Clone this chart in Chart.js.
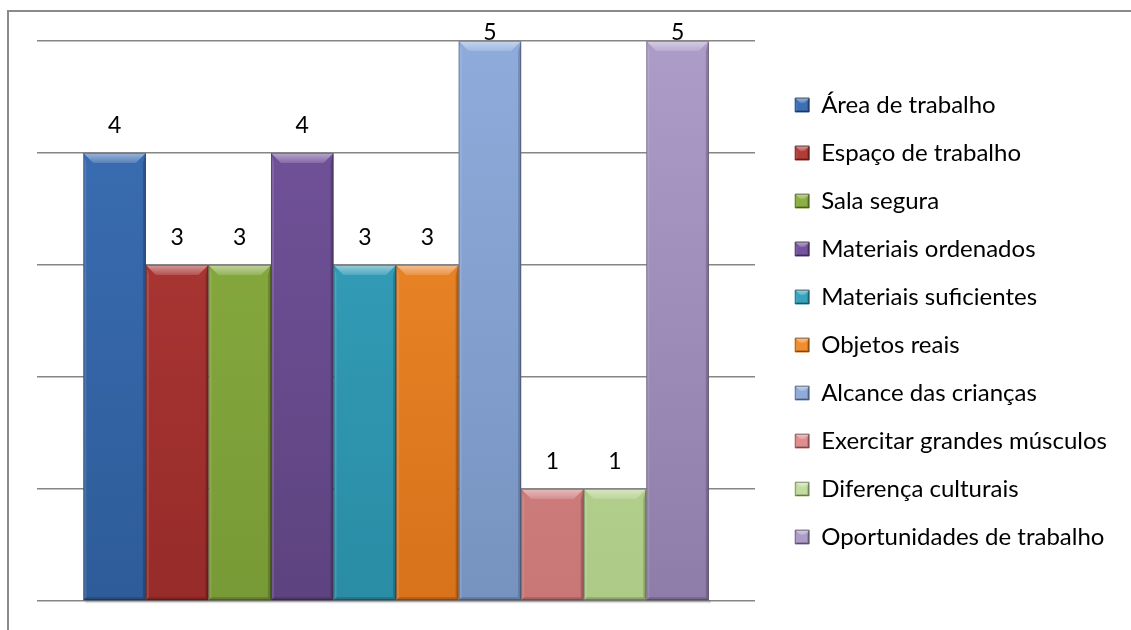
<!DOCTYPE html>
<html>
<head>
<meta charset="utf-8">
<script src="https://cdn.jsdelivr.net/npm/chart.js@4/dist/chart.umd.min.js"></script>
<style>
  html, body { margin: 0; padding: 0; background: #fff; }
  #wrap { position: relative; width: 1131px; height: 630px; overflow: hidden; }
  #frame { position: absolute; left: 7px; top: 10px; width: 2000px; height: 2000px; border: 2px solid #8a8a8a; box-sizing: border-box; }
  canvas { position: absolute; left: 0; top: 0; }
</style>
</head>
<body>
<div id="wrap">
  <div id="frame"></div>
  <canvas id="c" width="1131" height="630"></canvas>
</div>
<script>
// Items evaluated in the classroom survey
const categories = [
  'Área de trabalho',
  'Espaço de trabalho',
  'Sala segura',
  'Materiais ordenados',
  'Materiais suficientes',
  'Objetos reais',
  'Alcance das crianças',
  'Exercitar grandes músculos',
  'Diferença culturais',
  'Oportunidades de trabalho'
];
const values = [4, 3, 3, 4, 3, 3, 5, 1, 1, 5];
const yTicks = [0, 1, 2, 3, 4, 5];

// Fill colours: light top / dark bottom of each bar
const topColors = ['#3c6fb6', '#b33b38', '#8caf41', '#74549e', '#37a4bf', '#f28c2c', '#8fabdb', '#de8e8e', '#c2dd9f', '#ad9cc8'];
const bottomColors = ['#2e5c99', '#962b29', '#789a36', '#5d437f', '#2a8ca5', '#d8721b', '#7693c0', '#c87676', '#adca86', '#8e7ca9'];

const FONT = 'Lato, "Open Sans", sans-serif';

function barGradient(ctx, i) {
  const chart = ctx.chart;
  const area = chart.chartArea;
  if (!area) return topColors[i];
  const g = chart.ctx.createLinearGradient(0, area.top, 0, area.bottom);
  g.addColorStop(0, topColors[i]);
  g.addColorStop(1, bottomColors[i]);
  return g;
}

// Bevel shading drawn over each bar and legend swatch
function bevel(c, left, top, right, bottom, t, s) {
  c.save();
  const hg = c.createLinearGradient(0, top, 0, top + t);
  hg.addColorStop(0, 'rgba(255,255,255,0.5)');
  hg.addColorStop(1, 'rgba(255,255,255,0.15)');
  c.fillStyle = hg;
  c.beginPath();
  c.moveTo(left, top); c.lineTo(right, top);
  c.lineTo(right - t, top + t); c.lineTo(left + t, top + t);
  c.closePath(); c.fill();
  c.fillStyle = 'rgba(255,255,255,0.12)';
  c.beginPath();
  c.moveTo(left, top); c.lineTo(left + s, top + t);
  c.lineTo(left + s, bottom - s); c.lineTo(left, bottom);
  c.closePath(); c.fill();
  c.fillStyle = 'rgba(0,0,0,0.18)';
  c.beginPath();
  c.moveTo(right, top); c.lineTo(right - s, top + t);
  c.lineTo(right - s, bottom - s); c.lineTo(right, bottom);
  c.closePath(); c.fill();
  c.fillStyle = 'rgba(0,0,0,0.18)';
  c.beginPath();
  c.moveTo(left, bottom); c.lineTo(right, bottom);
  c.lineTo(right - s, bottom - s); c.lineTo(left + s, bottom - s);
  c.closePath(); c.fill();
  c.strokeStyle = 'rgba(0,0,0,0.3)';
  c.lineWidth = 1;
  c.strokeRect(left + 0.5, top + 0.5, right - left - 1, bottom - top - 1);
  c.restore();
}

const bevelPlugin = {
  id: 'bevelAndLabels',
  beforeDatasetsDraw(chart) {
    // soft shadow along the base of the bars
    const c = chart.ctx;
    const first = chart.getDatasetMeta(0).data[0];
    const last = chart.getDatasetMeta(values.length - 1).data[0];
    if (!first || !last) return;
    c.save();
    c.fillStyle = 'rgba(0,0,0,0.12)';
    c.fillRect(first.x - first.width / 2 + 2, first.base, (last.x + last.width / 2) - (first.x - first.width / 2), 3);
    c.restore();
  },
  afterDatasetsDraw(chart) {
    const c = chart.ctx;
    chart.data.datasets.forEach((ds, i) => {
      const bar = chart.getDatasetMeta(i).data[0];
      if (!bar) return;
      const left = bar.x - bar.width / 2, right = bar.x + bar.width / 2;
      bevel(c, left, bar.y, right, bar.base, 10, 3);
      // value label
      c.save();
      c.fillStyle = '#000';
      c.font = '23px ' + FONT;
      c.textAlign = 'center';
      c.textBaseline = 'middle';
      const ly = Math.max(bar.y - 27, chart.chartArea.top - 8);
      c.fillText(String(ds.data[0]), bar.x, ly);
      c.restore();
    });
  },
  afterDraw(chart) {
    const lg = chart.legend;
    if (!lg || !lg.legendHitBoxes) return;
    const c = chart.ctx;
    const bw = lg.options.labels.boxWidth, bh = lg.options.labels.boxHeight;
    lg.legendHitBoxes.forEach(hb => {
      const top = hb.top + (hb.height - bh) / 2;
      bevel(c, hb.left, top, hb.left + bw, top + bh, 5, 2);
    });
  }
};

new Chart(document.getElementById('c'), {
  type: 'bar',
  data: {
    labels: [''],
    datasets: categories.map((name, i) => ({
      label: name,
      data: [values[i]],
      backgroundColor: (ctx) => barGradient(ctx, i),
      borderWidth: 0
    }))
  },
  options: {
    responsive: false,
    animation: false,
    devicePixelRatio: 1,
    categoryPercentage: 0.871,
    barPercentage: 1,
    layout: { padding: { left: 37, top: 41, bottom: 29, right: 14 } },
    plugins: {
      tooltip: { enabled: false },
      legend: {
        position: 'right',
        align: 'center',
        maxWidth: 500,
        labels: {
          boxWidth: 14,
          boxHeight: 14,
          padding: 24,
          color: '#000',
          font: { family: FONT, size: 24 },
          generateLabels(chart) {
            return chart.data.datasets.map((ds, i) => ({
              text: ds.label,
              fillStyle: topColors[i],
              strokeStyle: bottomColors[i],
              lineWidth: 1,
              datasetIndex: i,
              hidden: false
            }));
          }
        }
      }
    },
    scales: {
      x: { display: false },
      y: {
        position: 'right',
        min: 0,
        max: 5,
        afterBuildTicks(scale) { scale.ticks = yTicks.map(v => ({ value: v })); },
        afterFit(scale) { scale.width = 16; },
        ticks: { display: false },
        border: { display: false },
        grid: { color: '#868686', lineWidth: 1.5, drawTicks: false }
      }
    }
  },
  plugins: [bevelPlugin]
});
</script>
</body>
</html>
